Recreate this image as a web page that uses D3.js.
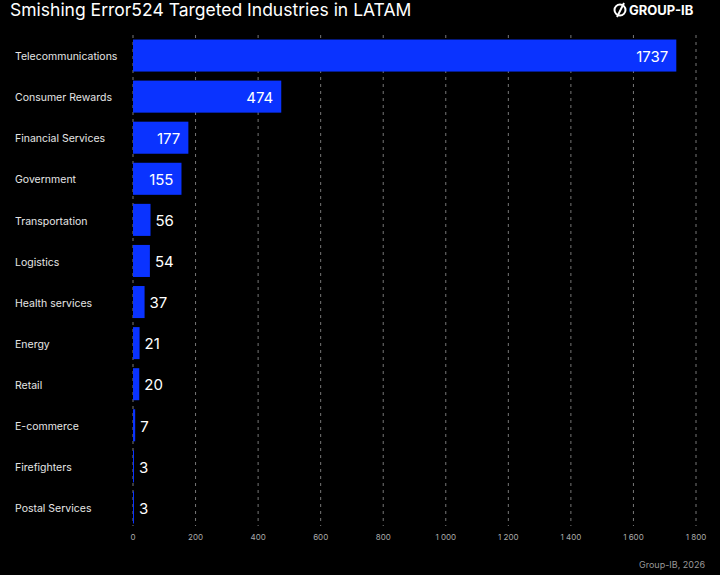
<!DOCTYPE html>
<html>
<head>
<meta charset="utf-8">
<title>Smishing Error524 Targeted Industries in LATAM</title>
<style>
body { margin: 0; background: #000; }
svg { display: block; background: #000; }
text { font-family: Inter, "Noto Sans", sans-serif; }
.grid line { stroke: #777; stroke-dasharray: 3,4; stroke-width: 1; }
.tick text { fill: #aaa; font-size: 8px; }
</style>
</head>
<body>
<script src="https://cdn.jsdelivr.net/npm/d3@7"></script>
<script>

var industries = ["Telecommunications", "Consumer Rewards", "Financial Services", "Government",
  "Transportation", "Logistics", "Health services", "Energy", "Retail", "E-commerce",
  "Firefighters", "Postal Services"];
var counts = [1737, 474, 177, 155, 56, 54, 37, 21, 20, 7, 3, 3];
var xTicks = [0, 200, 400, 600, 800, 1000, 1200, 1400, 1600, 1800];

var data = industries.map(function(d, i) { return {name: d, value: counts[i]}; });

var width = 720, height = 575;
var margin = {top: 35, right: 24, bottom: 50, left: 133};

var svg = d3.select("body").append("svg")
    .attr("width", width)
    .attr("height", height);

var x = d3.scaleLinear()
    .domain([0, 1800])
    .range([margin.left, 696]);

var y = d3.scaleBand()
    .domain(industries)
    .range([margin.top, 528])
    .paddingInner(0.22)
    .paddingOuter(0.11);

var fmt = function(v) { return d3.format(",")(v).replace(/,/g, "\u00a0"); };

// dashed gridlines
svg.append("g")
    .attr("class", "grid")
    .selectAll("line")
    .data(xTicks)
    .enter().append("line")
    .attr("x1", function(d) { return x(d); })
    .attr("x2", function(d) { return x(d); })
    .attr("y1", margin.top)
    .attr("y2", 526);

// tick labels
svg.append("g")
    .attr("class", "tick")
    .selectAll("text")
    .data(xTicks)
    .enter().append("text")
    .attr("x", function(d) { return x(d); })
    .attr("y", 540)
    .attr("text-anchor", "middle")
    .text(fmt);

// bars
svg.append("g")
    .selectAll("rect")
    .data(data)
    .enter().append("rect")
    .attr("x", x(0))
    .attr("y", function(d) { return y(d.name); })
    .attr("width", function(d) { return Math.max(1, x(d.value) - x(0)); })
    .attr("height", y.bandwidth())
    .attr("fill", "#0a33ff");

// category labels
svg.append("g")
    .selectAll("text")
    .data(data)
    .enter().append("text")
    .attr("x", 15)
    .attr("y", function(d) { return y(d.name) + y.bandwidth() / 2 + 1; })
    .attr("dy", "0.35em")
    .attr("fill", "#e6e6e6")
    .style("font-size", "10.5px")
    .text(function(d) { return d.name; });

// value labels
svg.append("g")
    .selectAll("text")
    .data(data)
    .enter().append("text")
    .attr("x", function(d) { return d.value > 100 ? x(d.value) - 8 : x(d.value) + 5; })
    .attr("y", function(d) { return y(d.name) + y.bandwidth() / 2 + 1; })
    .attr("dy", "0.35em")
    .attr("text-anchor", function(d) { return d.value > 100 ? "end" : "start"; })
    .attr("fill", "#fff")
    .style("font-size", "15px")
    .text(function(d) { return d.value; });

// title
svg.append("text")
    .attr("x", 10)
    .attr("y", 16)
    .attr("fill", "#fff")
    .style("font-size", "17.5px")
    .text("Smishing Error524 Targeted Industries in LATAM");

// logo
var logo = svg.append("g").attr("transform", "translate(620,10)");
logo.append("circle")
    .attr("cx", 0).attr("cy", 0).attr("r", 5.5)
    .attr("fill", "none").attr("stroke", "#fff").attr("stroke-width", 2);
logo.append("line")
    .attr("x1", -3).attr("y1", 7).attr("x2", 4).attr("y2", -7)
    .attr("stroke", "#fff").attr("stroke-width", 2);
logo.append("text")
    .attr("x", 9).attr("y", 5)
    .attr("fill", "#fff")
    .style("font-size", "13px")
    .style("font-weight", "bold")
    .text("GROUP-IB");

// source
svg.append("text")
    .attr("x", 705)
    .attr("y", 568)
    .attr("text-anchor", "end")
    .attr("fill", "#999")
    .style("font-size", "9px")
    .text("Group-IB, 2026");

</script>
</body>
</html>
